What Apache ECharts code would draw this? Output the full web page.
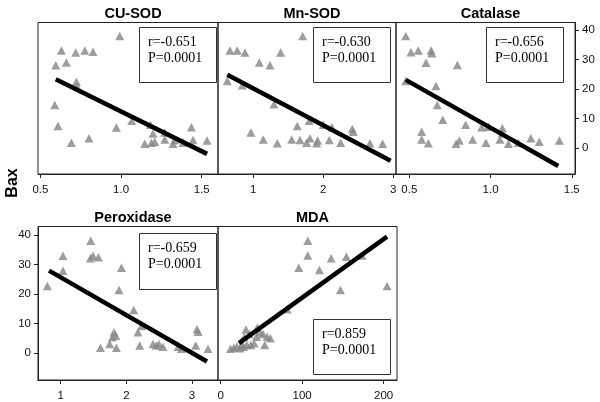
<!DOCTYPE html>
<html>
<head>
<meta charset="utf-8">
<script src="https://cdn.jsdelivr.net/npm/echarts@6/dist/echarts.min.js"></script>
<style>
html,body{margin:0;padding:0;background:#fff;}
#chart{width:600px;height:402px;}
</style>
</head>
<body>
<div id="chart"></div>
<script>
// ---- Data ----
const panelTitles = ['CU-SOD', 'Mn-SOD', 'Catalase', 'Peroxidase', 'MDA'];
const rTexts = ['r=-0.651', 'r=-0.630', 'r=-0.656', 'r=-0.659', 'r=0.859'];
const pTexts = ['P=0.0001', 'P=0.0001', 'P=0.0001', 'P=0.0001', 'P=0.0001'];
const yAxisName = 'Bax';

const cuSodX = [0.992,0.630,0.719,0.775,0.826,0.595,0.661,0.723,0.729,0.589,0.609,0.692,0.801,0.971,1.066,1.182,1.198,1.147,1.188,1.209,1.271,1.271,1.322,1.333,1.384,1.436,1.446,1.533];
const cuSodY = [37.9,33,32.3,33,32.6,28,29,22.5,20.8,14.6,7.5,1.9,3.4,7,9.3,7.9,5,1.5,1.9,2.2,5.3,3,1.5,2.8,1.9,7.1,2.8,2.6];
const cuSodFit = [[0.595, 23.3], [1.533, -1.9]];

const mnSodX = [1.706,0.667,0.771,0.881,1.391,1.086,1.239,0.629,0.843,1.296,1.629,1.8,2.0,2.124,2.414,2.429,0.967,1.143,1.343,1.549,1.667,1.763,1.81,1.906,1.92,2.086,2.249,2.667,2.849];
const mnSodY = [37.9,33,33,32.3,32.3,29,28,22.7,21.3,14.9,7.5,9.3,7.9,7.1,6.5,5.6,5.3,3,1.7,3,2.8,1.9,3.4,1.7,2.6,2.8,1.9,1.7,1.5];
const mnSodFit = [[0.629, 24.8], [2.963, -4.2]];

const catX = [0.478,0.510,0.555,0.634,0.638,0.603,0.796,0.478,0.664,0.672,0.706,0.576,0.576,0.617,0.788,0.808,0.847,0.890,0.946,0.986,0.972,1.058,1.073,1.073,1.110,1.171,1.248,1.300,1.424];
const catY = [37.9,32.4,33,33,32.1,28.9,28.1,22.7,21,14.6,9.6,5.6,3,1.7,1.5,2.6,7.9,3,7.1,7.3,1.9,3,6.8,5.1,1.5,1.9,3.4,2.2,2.6];
const catFit = [[0.478, 23.1], [1.417, -6]];

const peroxX = [0.797,1.035,1.035,1.457,1.452,1.492,1.574,1.925,1.888,2.112,2.229,2.177,2.203,1.605,1.746,1.788,1.812,1.838,1.848,2.406,2.458,2.497,2.558,2.787,2.839,3.056,3.076,3.091,3.244];
const peroxY = [22.7,32.9,27.9,38,32.1,32.9,32.4,28.9,21.4,14.6,9.2,7.1,2.6,1.9,3.1,5.4,7.1,5.9,1.9,3.1,2.6,3.1,2.2,2.2,1.5,2.6,8.1,7.3,1.5];
const peroxFit = [[0.822, 27.9], [3.228, -2.8]];

const mdaX = [106.9,106.9,135.6,154.3,173.5,95.9,121.2,147,204.2,81.7,31,45,48,52,35,57,61,54,16,20,24,28,32,37,41,29,12,44,26];
const mdaY = [38,33,32.1,32.6,33,28.9,28.1,21.4,22.7,14.9,8,8.7,7.1,6.5,6.5,5.6,5.1,2.8,1.9,2.4,1.7,2.2,2.8,2.8,3.4,5.5,1.5,5.6,3.0];
const mdaFit = [[22.4, 3.4], [204.2, 39.4]];

const xTicks = [[0.5,1.0,1.5],[1,2,3],[0.5,1.0,1.5],[1,2,3],[0,100,200]];
const yTicks = [0,10,20,30,40];

// ---- Layout ----
const grids = [
  {left:38, top:22.5, width:180, height:151.5},
  {left:218, top:22.5, width:178, height:151.5},
  {left:396, top:22.5, width:179, height:151.5},
  {left:38, top:226.5, width:180, height:153.5},
  {left:218, top:226.5, width:179, height:153.5}
];
const xRanges = [[0.485,1.601],[0.496,3.04],[0.418,1.52],[0.654,3.396],[-3.3,216.4]];
const yRanges = [[-8.69,42.47],[-8.69,42.47],[-8.69,42.47],[-9.03,42.81],[-9.03,42.81]];
const xDecimals = [1,0,1,0,0];

const allX = [cuSodX, mnSodX, catX, peroxX, mdaX];
const allY = [cuSodY, mnSodY, catY, peroxY, mdaY];
const allFit = [cuSodFit, mnSodFit, catFit, peroxFit, mdaFit];

const labelFont = {fontFamily:'Liberation Sans', fontSize:11.5, color:'#111'};

const option = {
  animation:false,
  backgroundColor:'#fff',
  grid: grids.map(g => Object.assign({show:true, borderColor:'#222', borderWidth:1, backgroundColor:'transparent'}, g)),
  title: panelTitles.map((t,i) => ({
    text:t,
    left: grids[i].left + grids[i].width/2,
    top: i < 3 ? 1 : 205,
    textAlign:'center',
    textStyle:{fontFamily:'Liberation Sans', fontWeight:'bold', fontSize:14.5, color:'#000'}
  })),
  xAxis: grids.map((g,i) => ({
    type:'value', gridIndex:i, min:xRanges[i][0], max:xRanges[i][1],
    axisLine:{show:true, onZero:false, lineStyle:{color:'#222', width:1}},
    axisTick:{show:true, inside:false, length:4, customValues:xTicks[i], lineStyle:{color:'#222'}},
    axisLabel:Object.assign({show:true, margin:10, customValues:xTicks[i],
      formatter:v => Number(v).toFixed(xDecimals[i])}, labelFont),
    splitLine:{show:false}
  })),
  yAxis: grids.map((g,i) => {
    const shown = (i === 2 || i === 3);
    return {
      type:'value', gridIndex:i, min:yRanges[i][0], max:yRanges[i][1],
      position: i === 2 ? 'right' : 'left',
      axisLine:{show:shown, onZero:false, lineStyle:{color:'#222', width:1}},
      axisTick:{show:shown, inside:false, length:4, customValues:yTicks, lineStyle:{color:'#222'}},
      axisLabel:Object.assign({show:shown, margin:7, customValues:yTicks}, labelFont),
      splitLine:{show:false}
    };
  }),
  series: [],
  graphic: []
};

for (let i = 0; i < 5; i++) {
  option.series.push({
    type:'scatter', xAxisIndex:i, yAxisIndex:i,
    symbol:'triangle', symbolSize:[9,8.5],
    itemStyle:{color:'#858585'},
    data: allX[i].map((x,k) => [x, allY[i][k]]),
    z:2
  });
  option.series.push({
    type:'line', xAxisIndex:i, yAxisIndex:i,
    data: allFit[i], symbol:'none',
    lineStyle:{color:'#000', width:4.5, cap:'butt'},
    z:3
  });
}

// Annotation boxes
const boxes = [
  {x:139.5, y:27.5, w:77, h:55},
  {x:313.5, y:27.5, w:77, h:55},
  {x:486.5, y:27.5, w:77, h:55},
  {x:139.5, y:233.5, w:77, h:56},
  {x:313.5, y:319.5, w:77, h:55}
];
boxes.forEach((b,i) => {
  option.graphic.push({
    type:'rect', shape:{x:b.x, y:b.y, width:b.w, height:b.h},
    style:{fill:'transparent', stroke:'#333', lineWidth:1}, z:10
  });
  option.graphic.push({
    type:'text', x:b.x + 8.5, y:b.y + 14.5,
    style:{text:rTexts[i], font:'14px "Liberation Serif"', fill:'#000', verticalAlign:'middle'}, z:11
  });
  option.graphic.push({
    type:'text', x:b.x + 8.5, y:b.y + 30.5,
    style:{text:pTexts[i], font:'14px "Liberation Serif"', fill:'#000', verticalAlign:'middle'}, z:11
  });
});
option.graphic.push({
  type:'text', x:13, y:183, rotation:Math.PI/2,
  style:{text:yAxisName, font:'bold 16px "Liberation Sans"', fill:'#000', align:'center', verticalAlign:'middle'}, z:11
});

const chart = echarts.init(document.getElementById('chart'), null, {renderer:'canvas'});
chart.setOption(option);
</script>
</body>
</html>
